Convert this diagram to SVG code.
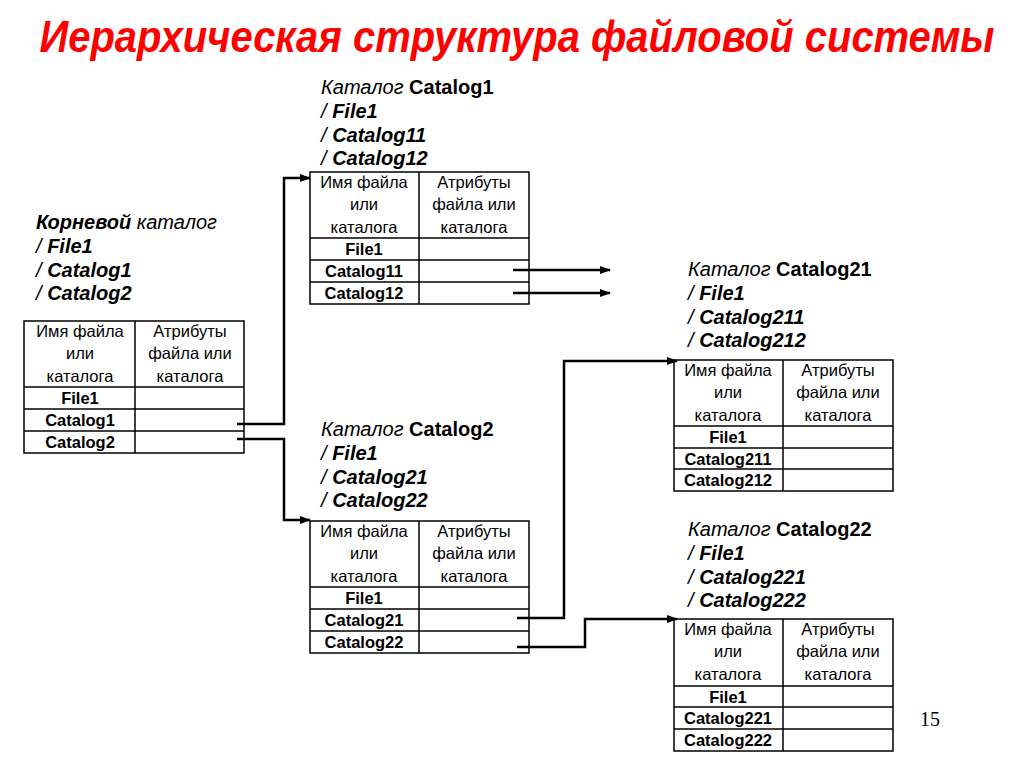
<svg xmlns="http://www.w3.org/2000/svg" width="1024" height="767" viewBox="0 0 1024 767">
<style>
.title{font-family:"Liberation Sans",Arial,sans-serif;font-size:40px;font-weight:bold;font-style:italic;fill:#ff0000}
.lbl{font-family:"Liberation Sans",Arial,sans-serif;font-size:20px;font-style:italic;fill:#000}
.b{font-weight:bold}
.n{font-style:normal}
.hd{font-family:"Liberation Sans",Arial,sans-serif;font-size:16.5px;fill:#000;text-anchor:middle}
.rw{font-family:"Liberation Sans",Arial,sans-serif;font-size:16.5px;font-weight:bold;fill:#000;text-anchor:middle}
.tb{fill:#fff;stroke:#000;stroke-width:1.5}
.ln{stroke:#000;stroke-width:1.5}
.con{fill:none;stroke:#000;stroke-width:2.5}
.pg{font-family:"Liberation Serif","Times New Roman",serif;font-size:20px;fill:#000;text-anchor:middle}
</style>
<defs>
<marker id="ah" markerUnits="userSpaceOnUse" markerWidth="11" markerHeight="8" refX="10" refY="4" orient="auto">
<path d="M0,0 L11,4 L0,8 z" fill="#000"/>
</marker>
</defs>
<rect width="1024" height="767" fill="#fff"/>
<text class="title" transform="translate(517,52) scale(1,1.1)" x="0" y="0" text-anchor="middle" textLength="955" lengthAdjust="spacingAndGlyphs">Иерархическая структура файловой системы</text>

<g id="root">
<text class="lbl" x="36" y="229"><tspan class="b">Корневой</tspan> каталог</text>
<text class="lbl" x="36" y="253">/ <tspan class="b">File1</tspan></text>
<text class="lbl" x="36" y="277">/ <tspan class="b">Catalog1</tspan></text>
<text class="lbl" x="36" y="300">/ <tspan class="b">Catalog2</tspan></text>
<rect class="tb" x="24" y="321" width="220" height="132"/>
<line class="ln" x1="135" y1="321" x2="135" y2="453"/>
<line class="ln" x1="24" y1="387" x2="244" y2="387"/>
<line class="ln" x1="24" y1="409" x2="244" y2="409"/>
<line class="ln" x1="24" y1="431" x2="244" y2="431"/>
<text class="hd" x="80" y="337">Имя файла</text>
<text class="hd" x="80" y="359">или</text>
<text class="hd" x="80" y="382">каталога</text>
<text class="hd" x="190" y="337">Атрибуты</text>
<text class="hd" x="190" y="359">файла или</text>
<text class="hd" x="190" y="382">каталога</text>
<text class="rw" x="80" y="404">File1</text>
<text class="rw" x="80" y="426">Catalog1</text>
<text class="rw" x="80" y="448">Catalog2</text>
</g>

<g id="catalog1">
<text class="lbl" x="321" y="94">Каталог <tspan class="b n">Catalog1</tspan></text>
<text class="lbl" x="321" y="118">/ <tspan class="b">File1</tspan></text>
<text class="lbl" x="321" y="142">/ <tspan class="b">Catalog11</tspan></text>
<text class="lbl" x="321" y="165">/ <tspan class="b">Catalog12</tspan></text>
<rect class="tb" x="310" y="172" width="219" height="132"/>
<line class="ln" x1="419" y1="172" x2="419" y2="304"/>
<line class="ln" x1="310" y1="238" x2="529" y2="238"/>
<line class="ln" x1="310" y1="260" x2="529" y2="260"/>
<line class="ln" x1="310" y1="282" x2="529" y2="282"/>
<text class="hd" x="364" y="188">Имя файла</text>
<text class="hd" x="364" y="210">или</text>
<text class="hd" x="364" y="233">каталога</text>
<text class="hd" x="474" y="188">Атрибуты</text>
<text class="hd" x="474" y="210">файла или</text>
<text class="hd" x="474" y="233">каталога</text>
<text class="rw" x="364" y="255">File1</text>
<text class="rw" x="364" y="277">Catalog11</text>
<text class="rw" x="364" y="299">Catalog12</text>
</g>

<g id="catalog2">
<text class="lbl" x="321" y="436">Каталог <tspan class="b n">Catalog2</tspan></text>
<text class="lbl" x="321" y="460">/ <tspan class="b">File1</tspan></text>
<text class="lbl" x="321" y="484">/ <tspan class="b">Catalog21</tspan></text>
<text class="lbl" x="321" y="507">/ <tspan class="b">Catalog22</tspan></text>
<rect class="tb" x="310" y="521" width="219" height="132"/>
<line class="ln" x1="419" y1="521" x2="419" y2="653"/>
<line class="ln" x1="310" y1="587" x2="529" y2="587"/>
<line class="ln" x1="310" y1="609" x2="529" y2="609"/>
<line class="ln" x1="310" y1="631" x2="529" y2="631"/>
<text class="hd" x="364" y="537">Имя файла</text>
<text class="hd" x="364" y="559">или</text>
<text class="hd" x="364" y="582">каталога</text>
<text class="hd" x="474" y="537">Атрибуты</text>
<text class="hd" x="474" y="559">файла или</text>
<text class="hd" x="474" y="582">каталога</text>
<text class="rw" x="364" y="604">File1</text>
<text class="rw" x="364" y="626">Catalog21</text>
<text class="rw" x="364" y="648">Catalog22</text>
</g>

<g id="catalog21">
<text class="lbl" x="688" y="276">Каталог <tspan class="b n">Catalog21</tspan></text>
<text class="lbl" x="688" y="300">/ <tspan class="b">File1</tspan></text>
<text class="lbl" x="688" y="324">/ <tspan class="b">Catalog211</tspan></text>
<text class="lbl" x="688" y="347">/ <tspan class="b">Catalog212</tspan></text>
<rect class="tb" x="674" y="360" width="219" height="131"/>
<line class="ln" x1="783" y1="360" x2="783" y2="491"/>
<line class="ln" x1="674" y1="426" x2="893" y2="426"/>
<line class="ln" x1="674" y1="448" x2="893" y2="448"/>
<line class="ln" x1="674" y1="469" x2="893" y2="469"/>
<text class="hd" x="728" y="376">Имя файла</text>
<text class="hd" x="728" y="398">или</text>
<text class="hd" x="728" y="421">каталога</text>
<text class="hd" x="838" y="376">Атрибуты</text>
<text class="hd" x="838" y="398">файла или</text>
<text class="hd" x="838" y="421">каталога</text>
<text class="rw" x="728" y="443">File1</text>
<text class="rw" x="728" y="465">Catalog211</text>
<text class="rw" x="728" y="486">Catalog212</text>
</g>

<g id="catalog22">
<text class="lbl" x="688" y="536">Каталог <tspan class="b n">Catalog22</tspan></text>
<text class="lbl" x="688" y="560">/ <tspan class="b">File1</tspan></text>
<text class="lbl" x="688" y="584">/ <tspan class="b">Catalog221</tspan></text>
<text class="lbl" x="688" y="607">/ <tspan class="b">Catalog222</tspan></text>
<rect class="tb" x="674" y="619" width="219" height="132"/>
<line class="ln" x1="783" y1="619" x2="783" y2="751"/>
<line class="ln" x1="674" y1="686" x2="893" y2="686"/>
<line class="ln" x1="674" y1="707" x2="893" y2="707"/>
<line class="ln" x1="674" y1="729" x2="893" y2="729"/>
<text class="hd" x="728" y="635">Имя файла</text>
<text class="hd" x="728" y="657">или</text>
<text class="hd" x="728" y="680">каталога</text>
<text class="hd" x="838" y="635">Атрибуты</text>
<text class="hd" x="838" y="657">файла или</text>
<text class="hd" x="838" y="680">каталога</text>
<text class="rw" x="728" y="703">File1</text>
<text class="rw" x="728" y="724">Catalog221</text>
<text class="rw" x="728" y="746">Catalog222</text>
</g>

<g id="connectors">
<path class="con" d="M237,424 H284 V178 H310" marker-end="url(#ah)"/>
<path class="con" d="M237,439 H284 V520 H310" marker-end="url(#ah)"/>
<path class="con" d="M513,270 H610" marker-end="url(#ah)"/>
<path class="con" d="M513,293 H610" marker-end="url(#ah)"/>
<path class="con" d="M517,618 H564 V361 H677" marker-end="url(#ah)"/>
<path class="con" d="M517,647 H585 V619 H677" marker-end="url(#ah)"/>
</g>

<text class="pg" x="930" y="726">15</text>
</svg>
